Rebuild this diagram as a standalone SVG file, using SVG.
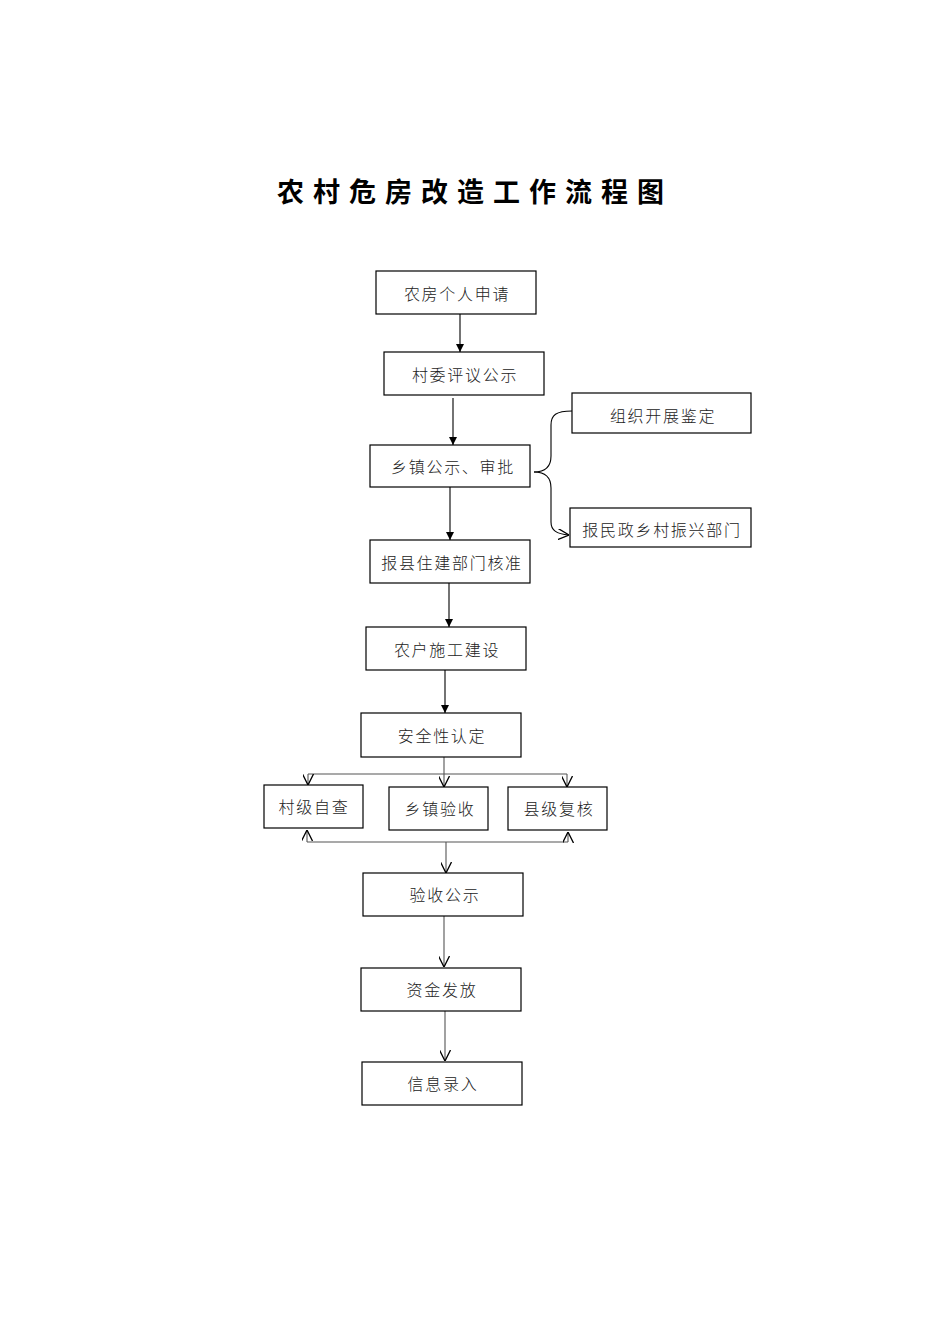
<svg xmlns="http://www.w3.org/2000/svg" width="936" height="1323" viewBox="0 0 936 1323">
<style>
.box{fill:#fff;stroke:#000;stroke-width:1.2}
.t{font-family:"Noto Sans CJK SC","Noto Sans CJK JP",sans-serif;font-size:16px;font-weight:300;fill:#222;text-anchor:middle;dominant-baseline:central;letter-spacing:1.7px}
.c{fill:none;stroke:#000;stroke-width:1.1}
.g{fill:none;stroke:#555;stroke-width:1.1}
.title{font-family:"Noto Sans CJK SC",sans-serif;font-size:27px;font-weight:700;fill:#000;text-anchor:middle;letter-spacing:9px}
</style>
<defs>
<marker id="fa" viewBox="0 0 10 10" refX="10" refY="5" markerWidth="8" markerHeight="8" markerUnits="userSpaceOnUse" orient="auto"><path d="M0,0 L10,5 L0,10 Z" fill="#000"/></marker>
<marker id="oa" viewBox="0 0 10 10" refX="10" refY="5" markerWidth="11" markerHeight="11" markerUnits="userSpaceOnUse" orient="auto"><path d="M0,0 L10,5 L0,10" fill="none" stroke="#000" stroke-width="1.2"/></marker>
</defs>
<rect width="936" height="1323" fill="#fff"/>
<text class="title" x="475" y="202">农村危房改造工作流程图</text>
<g id="connectors">
<line class="c" x1="460" y1="314" x2="460" y2="352" marker-end="url(#fa)"/>
<line class="c" x1="453" y1="398" x2="453" y2="445" marker-end="url(#fa)"/>
<path class="c" d="M534,472 C546,472 551,466 551,456 L551,425 C551,415 556,411 572,411"/>
<path class="c" d="M534,472 C546,472 551,478 551,488 L551,522 C551,530 556,534 569,535" marker-end="url(#oa)"/>
<line class="c" x1="450" y1="487" x2="450" y2="540" marker-end="url(#fa)"/>
<line class="c" x1="449" y1="583" x2="449" y2="627" marker-end="url(#fa)"/>
<line class="c" x1="445" y1="670" x2="445" y2="713" marker-end="url(#fa)"/>
<line class="g" x1="444" y1="757" x2="444" y2="787" marker-end="url(#oa)"/>
<line class="g" x1="308" y1="774" x2="567" y2="774"/>
<line class="g" x1="308" y1="774" x2="308" y2="785" marker-end="url(#oa)"/>
<line class="g" x1="567" y1="774" x2="567" y2="787" marker-end="url(#oa)"/>
<line class="g" x1="307" y1="842" x2="568" y2="842"/>
<line class="g" x1="307" y1="842" x2="307" y2="830" marker-end="url(#oa)"/>
<line class="g" x1="568" y1="842" x2="568" y2="832" marker-end="url(#oa)"/>
<line class="g" x1="446" y1="842" x2="446" y2="873" marker-end="url(#oa)"/>
<line class="g" x1="444" y1="916" x2="444" y2="967" marker-end="url(#oa)"/>
<line class="g" x1="445" y1="1011" x2="445" y2="1061" marker-end="url(#oa)"/>
</g>
<g id="n1"><rect class="box" x="376" y="271" width="160" height="43"/><text class="t" x="457" y="293">农房个人申请</text></g>
<g id="n2"><rect class="box" x="384" y="352" width="160" height="43"/><text class="t" x="465" y="374">村委评议公示</text></g>
<g id="n3"><rect class="box" x="370" y="445" width="160" height="42"/><text class="t" x="453" y="466">乡镇公示、审批</text></g>
<g id="n4"><rect class="box" x="572" y="393" width="179" height="40"/><text class="t" x="663" y="415">组织开展鉴定</text></g>
<g id="n5"><rect class="box" x="570" y="508" width="181" height="39"/><text class="t" x="662" y="529">报民政乡村振兴部门</text></g>
<g id="n6"><rect class="box" x="370" y="540" width="160" height="43"/><text class="t" x="452" y="562">报县住建部门核准</text></g>
<g id="n7"><rect class="box" x="366" y="627" width="160" height="43"/><text class="t" x="447" y="649">农户施工建设</text></g>
<g id="n8"><rect class="box" x="361" y="713" width="160" height="44"/><text class="t" x="442" y="735">安全性认定</text></g>
<g id="n9"><rect class="box" x="264" y="785" width="99" height="43"/><text class="t" x="314" y="806">村级自查</text></g>
<g id="n10"><rect class="box" x="389" y="787" width="99" height="43"/><text class="t" x="440" y="808">乡镇验收</text></g>
<g id="n11"><rect class="box" x="508" y="787" width="99" height="43"/><text class="t" x="559" y="808">县级复核</text></g>
<g id="n12"><rect class="box" x="363" y="873" width="160" height="43"/><text class="t" x="445" y="894">验收公示</text></g>
<g id="n13"><rect class="box" x="361" y="968" width="160" height="43"/><text class="t" x="442" y="989">资金发放</text></g>
<g id="n14"><rect class="box" x="362" y="1062" width="160" height="43"/><text class="t" x="443" y="1083">信息录入</text></g>
</svg>
